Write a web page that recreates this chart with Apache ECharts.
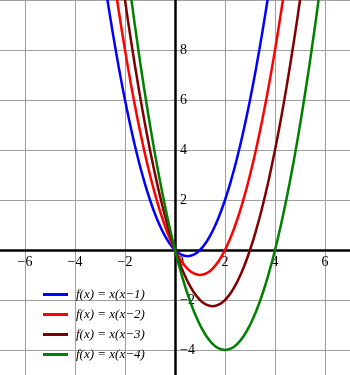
<!DOCTYPE html>
<html><head><meta charset="utf-8">
<script src="https://cdn.jsdelivr.net/npm/echarts@6/dist/echarts.min.js"></script>
<style>html,body{margin:0;padding:0;background:#fff}#c{width:350px;height:375px}</style>
</head><body><div id="c"></div>
<script>
const xs = [-3, -2.75, -2.5, -2.25, -2, -1.75, -1.5, -1.25, -1, -0.75, -0.5, -0.25, 0, 0.25, 0.5, 0.75, 1, 1.25, 1.5, 1.75, 2, 2.25, 2.5, 2.75, 3, 3.25, 3.5, 3.75, 4, 4.25, 4.5, 4.75, 5, 5.25, 5.5, 5.75, 6, 6.25, 6.5];
const names = ['f(x) = x(x\u22121)', 'f(x) = x(x\u22122)', 'f(x) = x(x\u22123)', 'f(x) = x(x\u22124)'];
const colors = ['#0000ff', '#ff0000', '#800000', '#008000'];
const y1 = [12, 10.3125, 8.75, 7.3125, 6, 4.8125, 3.75, 2.8125, 2, 1.3125, 0.75, 0.3125, 0, -0.1875, -0.25, -0.1875, 0, 0.3125, 0.75, 1.3125, 2, 2.8125, 3.75, 4.8125, 6, 7.3125, 8.75, 10.3125, 12, 13.8125, null, null, null, null, null, null, null, null, null];
const y2 = [15, 13.0625, 11.25, 9.5625, 8, 6.5625, 5.25, 4.0625, 3, 2.0625, 1.25, 0.5625, 0, -0.4375, -0.75, -0.9375, -1, -0.9375, -0.75, -0.4375, 0, 0.5625, 1.25, 2.0625, 3, 4.0625, 5.25, 6.5625, 8, 9.5625, 11.25, 13.0625, 15, null, null, null, null, null, null];
const y3 = [null, 15.8125, 13.75, 11.8125, 10, 8.3125, 6.75, 5.3125, 4, 2.8125, 1.75, 0.8125, 0, -0.6875, -1.25, -1.6875, -2, -2.1875, -2.25, -2.1875, -2, -1.6875, -1.25, -0.6875, 0, 0.8125, 1.75, 2.8125, 4, 5.3125, 6.75, 8.3125, 10, 11.8125, 13.75, 15.8125, 18, null, null];
const y4 = [null, null, null, 14.0625, 12, 10.0625, 8.25, 6.5625, 5, 3.5625, 2.25, 1.0625, 0, -0.9375, -1.75, -2.4375, -3, -3.4375, -3.75, -3.9375, -4, -3.9375, -3.75, -3.4375, -3, -2.4375, -1.75, -0.9375, 0, 1.0625, 2.25, 3.5625, 5, 6.5625, 8.25, 10.0625, 12, 14.0625, null];
const ySeries = [y1, y2, y3, y4];
const xTicks = [-6, -4, -2, 0, 2, 4, 6];
const yTicks = [-4, -2, 2, 4, 6, 8];

const fmt = v => v < 0 ? '\u2212' + (-v) : String(v);
const chart = echarts.init(document.getElementById('c'), null, {renderer: 'canvas'});
chart.setOption({
  animation: false,
  grid: {left: -25, right: -25, top: 0, bottom: -25, containLabel: false, outerBoundsMode: 'none'},
  xAxis: {
    type: 'value', min: -8, max: 8, interval: 2, position: 'bottom', offset: -150,
    axisLine: {onZero: false, lineStyle: {color: '#000', width: 2.5}},
    axisTick: {show: false},
    splitLine: {show: true, lineStyle: {color: '#a0a0a0', width: 1}},
    axisLabel: {
      margin: 5, color: '#000', fontFamily: 'Liberation Serif', fontSize: 14,
      formatter: v => v === 0 ? '{z|0}' : (xTicks.includes(v) ? fmt(v) : ''),
      rich: {z: {padding: [0, 0, 0, 11], fontFamily: 'Liberation Serif', fontSize: 14, color: '#000'}}
    }
  },
  yAxis: {
    type: 'value', min: -6, max: 10, interval: 2, position: 'left', offset: -200,
    axisLine: {onZero: false, lineStyle: {color: '#000', width: 2.5}},
    axisTick: {show: false},
    splitLine: {show: true, lineStyle: {color: '#a0a0a0', width: 1}},
    axisLabel: {
      inside: true, margin: 5, color: '#000', fontFamily: 'Liberation Serif', fontSize: 14,
      padding: [3, 0, 0, 0],
      formatter: v => yTicks.includes(v) ? fmt(v) : ''
    }
  },
  legend: {
    orient: 'vertical', left: 38, top: 283, icon: 'rect', itemWidth: 25, itemHeight: 3, itemGap: 7,
    textStyle: {fontFamily: 'Liberation Serif', fontStyle: 'italic', fontSize: 13, color: '#000', padding: [0, 0, 0, 3]},
    data: names
  },
  series: ySeries.map((ys, i) => ({
    type: 'line', name: names[i],
    data: xs.map((x, j) => [x, ys[j]]).filter(p => p[1] !== null),
    smooth: true, symbol: 'none', showSymbol: false, clip: true,
    lineStyle: {color: colors[i], width: 2.5}, itemStyle: {color: colors[i]}
  }))
});
</script></body></html>
